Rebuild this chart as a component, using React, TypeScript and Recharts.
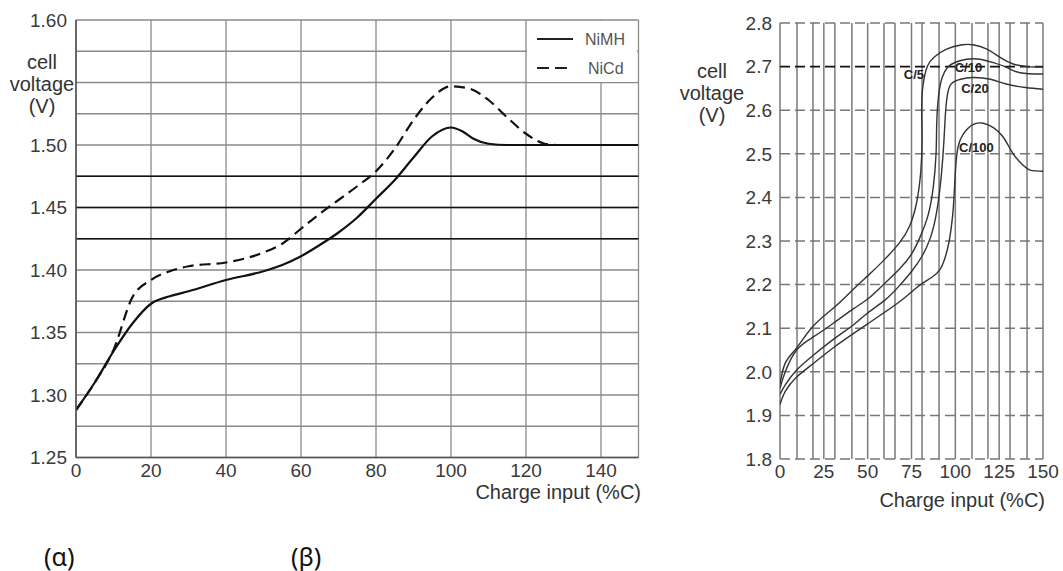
import React from 'react';
import {
  LineChart,
  Line,
  XAxis,
  YAxis,
  CartesianGrid,
  ReferenceLine,
  ReferenceDot
} from 'recharts';

// (α) NiMH vs NiCd charge curves
const leftXTicks = [0, 20, 40, 60, 80, 100, 120, 140, 150];
const leftYTicks = [1.25, 1.275, 1.3, 1.325, 1.35, 1.375, 1.4, 1.425, 1.45, 1.475, 1.5, 1.525, 1.55, 1.575, 1.6];
const leftYLabels = [1.25, 1.3, 1.35, 1.4, 1.45, 1.5, 1.6];
const leftDarkLines = [1.425, 1.45, 1.475];

const nimhCharge = [0, 5, 10, 15, 20, 25, 30, 40, 50, 55, 60, 65, 70, 75, 80, 85, 90, 95, 100, 103, 106, 110, 115, 120, 130, 140, 150];
const nimhVoltage = [1.288, 1.31, 1.335, 1.357, 1.373, 1.379, 1.383, 1.392, 1.399, 1.404, 1.411, 1.42, 1.43, 1.442, 1.457, 1.472, 1.49, 1.507, 1.514, 1.511, 1.505, 1.501, 1.5, 1.5, 1.5, 1.5, 1.5];

const nicdCharge = [0, 5, 10, 15, 20, 25, 30, 40, 50, 55, 60, 65, 70, 75, 80, 85, 90, 95, 100, 105, 110, 115, 120, 125, 128];
const nicdVoltage = [1.288, 1.31, 1.336, 1.378, 1.392, 1.399, 1.403, 1.406, 1.414, 1.421, 1.433, 1.445, 1.456, 1.467, 1.479, 1.497, 1.52, 1.538, 1.547, 1.545, 1.536, 1.522, 1.509, 1.501, 1.5];

// (β) charge rate curves
const rightGridX = [0, 9.7, 18.8, 25, 31.3, 41, 50, 59.3, 65.6, 75, 81, 90.7, 100, 109.5, 118.6, 125, 131.2, 140.9, 150];
const rightYTicks = [1.8, 1.9, 2.0, 2.1, 2.2, 2.3, 2.4, 2.5, 2.6, 2.7, 2.8];

const c5Charge = [0, 3, 9.5, 19, 31, 42, 50, 59, 68, 74, 78, 80.3, 81, 80.8, 81.5, 84, 88, 95, 104, 110, 118, 125.5, 133, 141, 150];
const c5Voltage = [1.972, 2.02, 2.055, 2.105, 2.148, 2.19, 2.22, 2.255, 2.295, 2.335, 2.39, 2.46, 2.53, 2.6, 2.655, 2.7, 2.722, 2.74, 2.75, 2.75, 2.74, 2.721, 2.706, 2.7, 2.699];

const c10Charge = [0, 3, 9.5, 19, 31, 42, 50, 59, 68, 75, 80, 84.5, 87.4, 89, 89.4, 90.5, 92.5, 95.5, 100, 106.5, 114, 121.7, 129.3, 137, 150];
const c10Voltage = [1.962, 2.0, 2.05, 2.08, 2.113, 2.145, 2.167, 2.2, 2.235, 2.27, 2.31, 2.36, 2.423, 2.5, 2.57, 2.635, 2.675, 2.698, 2.71, 2.717, 2.717, 2.709, 2.698, 2.686, 2.683];

const c20Charge = [0, 3, 9.5, 19, 31, 42, 50, 60, 68, 75, 81, 86, 89.5, 92, 93.5, 94.5, 95.8, 98, 103, 110, 120, 129, 140, 150];
const c20Voltage = [1.948, 1.97, 2.004, 2.038, 2.076, 2.108, 2.135, 2.165, 2.197, 2.23, 2.265, 2.31, 2.37, 2.45, 2.53, 2.6, 2.642, 2.662, 2.671, 2.675, 2.671, 2.66, 2.652, 2.648];

const c100Charge = [0, 3, 9.5, 19, 31, 50, 68, 77, 82, 87, 91, 94, 96.5, 98.5, 99.5, 100.2, 101.5, 104.5, 110, 116, 121.7, 127.4, 133, 138.8, 143, 150];
const c100Voltage = [1.925, 1.955, 1.988, 2.019, 2.057, 2.11, 2.16, 2.19, 2.205, 2.218, 2.233, 2.26, 2.3, 2.36, 2.42, 2.47, 2.515, 2.545, 2.567, 2.57, 2.56, 2.538, 2.5, 2.473, 2.462, 2.46];

const rateNames = ['C/5', 'C/10', 'C/20', 'C/100'];
const rateLabelCharge = [76.4, 107.5, 111.2, 112];
const rateLabelVoltage = [2.672, 2.688, 2.64, 2.503];

const zip = (xs: number[], ys: number[]) => xs.map((x, i) => ({ x, v: ys[i] }));

const nimhData = zip(nimhCharge, nimhVoltage);
const nicdData = zip(nicdCharge, nicdVoltage);
const rateData = [
  zip(c5Charge, c5Voltage),
  zip(c10Charge, c10Voltage),
  zip(c20Charge, c20Voltage),
  zip(c100Charge, c100Voltage)
];

const FONT = '"Liberation Sans", Arial, sans-serif';
const tickStyle = { fill: '#3a3a3a', fontSize: 19, fontFamily: FONT };

const titleStyle: React.CSSProperties = {
  position: 'absolute',
  fontFamily: FONT,
  fontSize: 20,
  lineHeight: '22px',
  color: '#333',
  textAlign: 'center',
  whiteSpace: 'nowrap'
};

const captionStyle: React.CSSProperties = {
  position: 'absolute',
  top: 542,
  fontFamily: '"Noto Sans", sans-serif',
  fontSize: 25,
  lineHeight: '28px',
  color: '#111'
};

export default function App() {
  return (
    <div style={{ position: 'absolute', left: 0, top: 0, width: 1063, height: 571, background: '#fff' }}>
      <LineChart
        width={660}
        height={520}
        margin={{ top: 20, right: 21.5, bottom: 0, left: 0 }}
        style={{ position: 'absolute', left: 0, top: 0 }}
      >
        <CartesianGrid stroke="#8a8a8a" strokeWidth={1.3} />
        {leftDarkLines.map((y) => (
          <ReferenceLine key={`d-${y}`} y={y} stroke="#111" strokeWidth={1.6} />
        ))}
        <XAxis
          type="number"
          dataKey="x"
          domain={[0, 150]}
          ticks={leftXTicks}
          interval={0}
          tickFormatter={(v) => (v === 150 ? '' : String(v))}
          height={62.5}
          tickLine={false}
          tickMargin={0}
          axisLine={{ stroke: '#555', strokeWidth: 1.6 }}
          tick={tickStyle}
          allowDataOverflow
        />
        <YAxis
          type="number"
          domain={[1.25, 1.6]}
          ticks={leftYTicks}
          interval={0}
          tickFormatter={(v) => (leftYLabels.includes(v) ? v.toFixed(2) : '')}
          width={76}
          tickLine={false}
          tickMargin={3}
          axisLine={{ stroke: '#555', strokeWidth: 1.6 }}
          tick={tickStyle}
          allowDataOverflow
        />
        <Line
          data={nimhData}
          dataKey="v"
          type="monotone"
          stroke="#111"
          strokeWidth={2.2}
          dot={false}
          isAnimationActive={false}
        />
        <Line
          data={nicdData}
          dataKey="v"
          type="monotone"
          stroke="#111"
          strokeWidth={2.2}
          strokeDasharray="11 6"
          dot={false}
          isAnimationActive={false}
        />
      </LineChart>

      {/* legend sits in the top-right grid cell */}
      <div style={{ position: 'absolute', left: 527, top: 21, width: 110, height: 61, background: '#fff' }}>
        <svg width={110} height={61} style={{ position: 'absolute', left: 0, top: 0 }}>
          <line x1={10} x2={46} y1={18} y2={18} stroke="#222" strokeWidth={2} />
          <line x1={10} x2={46} y1={47} y2={47} stroke="#222" strokeWidth={2} strokeDasharray="12 6" />
          <text x={58} y={24} fontSize={16} fontFamily={FONT} fill="#555">NiMH</text>
          <text x={61} y={53} fontSize={16} fontFamily={FONT} fill="#555">NiCd</text>
        </svg>
      </div>

      <div style={{ ...titleStyle, left: 2, top: 51, width: 80 }}>
        cell<br />voltage<br />(V)
      </div>
      <div style={{ ...titleStyle, right: 422, top: 482, lineHeight: '20px' }}>Charge input (%C)</div>

      <LineChart
        width={380}
        height={520}
        margin={{ top: 23, right: 17, bottom: 0, left: 0 }}
        style={{ position: 'absolute', left: 680, top: 0 }}
      >
        <CartesianGrid horizontal={false} stroke="#7a7a7a" strokeWidth={1.5} />
        {rightYTicks.map((y) => (
          <ReferenceLine
            key={`h-${y}`}
            y={y}
            stroke={y === 2.7 ? '#111' : '#777'}
            strokeWidth={y === 2.7 ? 1.8 : 1.5}
            strokeDasharray="10 5"
          />
        ))}
        <XAxis
          type="number"
          dataKey="x"
          domain={[0, 150]}
          ticks={rightGridX}
          interval={0}
          tickFormatter={(v) => (v % 25 === 0 ? String(v) : '')}
          height={61}
          tickLine={false}
          tickMargin={0}
          axisLine={false}
          tick={tickStyle}
          allowDataOverflow
        />
        <YAxis
          type="number"
          domain={[1.8, 2.8]}
          ticks={rightYTicks}
          interval={0}
          tickFormatter={(v) => v.toFixed(1)}
          width={100}
          tickLine={false}
          tickMargin={2}
          axisLine={false}
          tick={tickStyle}
          allowDataOverflow
        />
        {rateData.map((d, i) => (
          <Line
            key={rateNames[i]}
            data={d}
            dataKey="v"
            type="natural"
            stroke="#333"
            strokeWidth={1.4}
            dot={false}
            isAnimationActive={false}
          />
        ))}
        {rateNames.map((name, i) => (
          <ReferenceDot
            key={`l-${name}`}
            x={rateLabelCharge[i]}
            y={rateLabelVoltage[i]}
            r={0}
            ifOverflow="visible"
            shape={(p: any) => (
              <text
                x={p.cx}
                y={p.cy}
                textAnchor="middle"
                fontSize={13}
                fontWeight="bold"
                fontFamily={FONT}
                fill="#222"
              >
                {name}
              </text>
            )}
          />
        ))}
      </LineChart>

      <div style={{ ...titleStyle, left: 672, top: 60, width: 80 }}>
        cell<br />voltage<br />(V)
      </div>
      <div style={{ ...titleStyle, right: 18, top: 490, lineHeight: '20px' }}>Charge input (%C)</div>

      <div style={{ ...captionStyle, left: 44 }}>(α)</div>
      <div style={{ ...captionStyle, left: 291 }}>(β)</div>
    </div>
  );
}
